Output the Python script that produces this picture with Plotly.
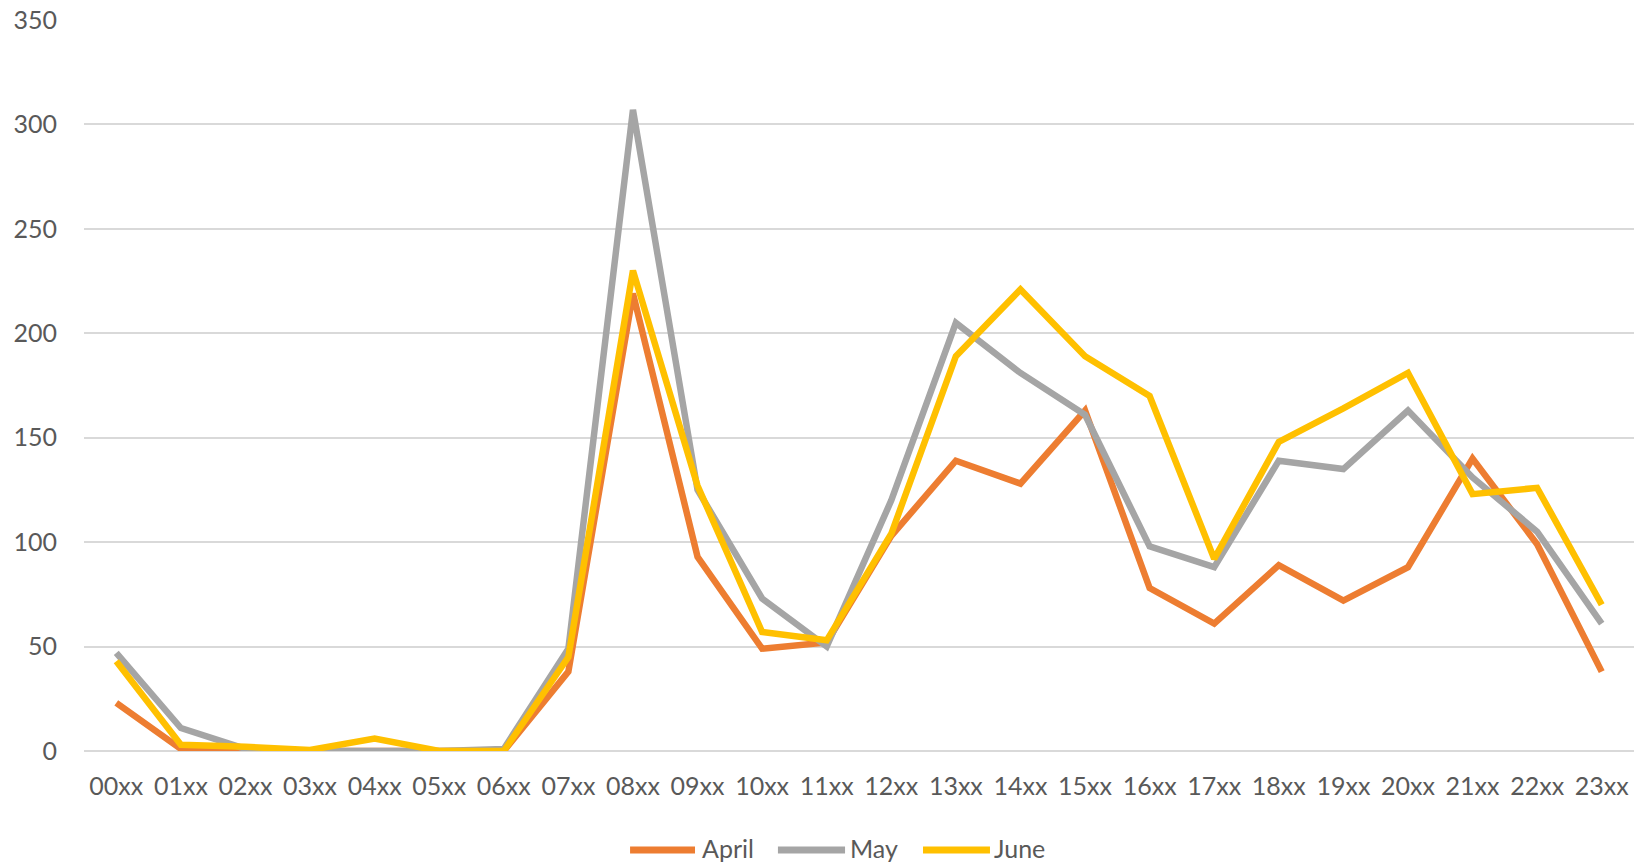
import plotly.graph_objects as go

hours = ["00xx", "01xx", "02xx", "03xx", "04xx", "05xx", "06xx", "07xx", "08xx", "09xx",
         "10xx", "11xx", "12xx", "13xx", "14xx", "15xx", "16xx", "17xx", "18xx", "19xx",
         "20xx", "21xx", "22xx", "23xx"]

april = [23, 1, 0, 0, 0, 0, 0, 38, 219, 93, 49, 52, 103, 139, 128, 163, 78, 61, 89, 72,
         88, 140, 99, 38]
may = [47, 11, 1, 0, 0, 0, 1, 49, 307, 125, 73, 50, 120, 205, 181, 161, 98, 88, 139, 135,
       163, 131, 105, 61]
june = [43, 3, 2, 0.5, 6, 0, 0, 45, 230, 127, 57, 53, 104, 189, 221, 189, 170, 92, 148, 164,
        181, 123, 126, 70]

y_ticks = [0, 50, 100, 150, 200, 250, 300, 350]

series = [("April", april, "#ED7D31"), ("May", may, "#A5A5A5"), ("June", june, "#FFC000")]

text_color = "#595959"
font_family = "Lato, 'Open Sans', sans-serif"
font_size = 25

fig = go.Figure()
for name, vals, color in series:
    fig.add_trace(go.Scatter(
        x=hours, y=vals, name=name, mode="lines",
        line=dict(color=color, width=6.5),
        showlegend=False,
    ))

# Legend drawn below the axis: a line sample followed by the series name
legend_y = -0.1354
legend_items = [
    ("April", "#ED7D31", 0.3523, 0.3942, 0.3974),
    ("May", "#A5A5A5", 0.4477, 0.4910, 0.4929),
    ("June", "#FFC000", 0.5413, 0.5845, 0.5858),
]
for label, color, x_start, x_end, x_text in legend_items:
    fig.add_shape(
        type="line", xref="paper", yref="paper",
        x0=x_start, x1=x_end, y0=legend_y, y1=legend_y,
        line=dict(color=color, width=7),
    )
    fig.add_annotation(
        xref="paper", yref="paper", x=x_text, y=legend_y + 0.003,
        xanchor="left", yanchor="middle", text=label, showarrow=False,
        font=dict(family=font_family, size=font_size, color=text_color),
    )

fig.update_layout(
    width=1635, height=865,
    margin=dict(l=84, r=1, t=20, b=114),
    paper_bgcolor="white", plot_bgcolor="white",
    font=dict(family=font_family, size=font_size, color=text_color),
    showlegend=False,
    xaxis=dict(
        type="category", range=[-0.5, 23.5], showgrid=False, zeroline=False,
        showline=False, ticks="", ticklabelstandoff=18,
        tickfont=dict(size=font_size, color=text_color),
    ),
    yaxis=dict(
        range=[0, 350], tickvals=y_ticks, showgrid=True, gridcolor="#D9D9D9", gridwidth=2,
        zeroline=True, zerolinecolor="#D9D9D9", zerolinewidth=2, showline=False,
        ticks="", ticklabelstandoff=26, tickfont=dict(size=font_size, color=text_color),
    ),
)

fig.write_html("out.html")
